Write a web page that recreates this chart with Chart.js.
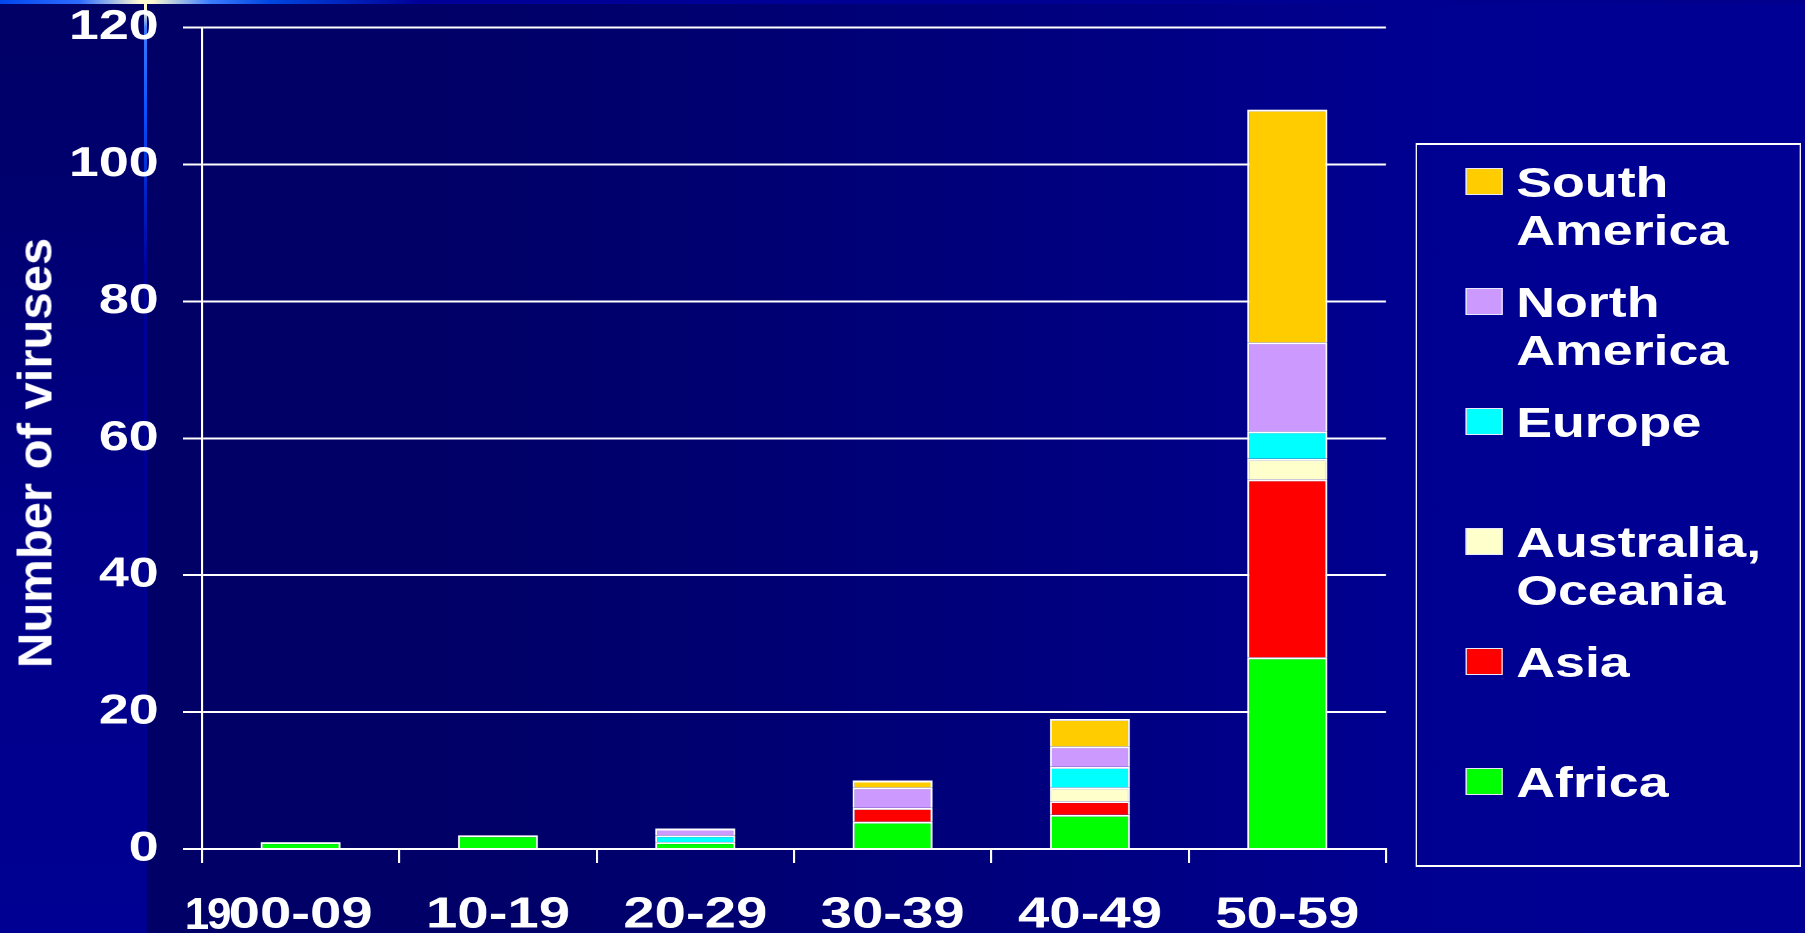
<!DOCTYPE html>
<html>
<head>
<meta charset="utf-8">
<title>Number of viruses by decade</title>
<script src="https://cdn.jsdelivr.net/npm/chart.js@4.4.1/dist/chart.umd.min.js"></script>
<style>
  html, body { margin: 0; padding: 0; }
  body {
    width: 1805px; height: 933px; overflow: hidden; position: relative;
    background: linear-gradient(to right, #000066 0px, #000068 500px, #00007c 1000px, #000090 1390px, #000094 1805px);
    font-family: "Liberation Sans", Arial, sans-serif;
    color: #fff;
  }
  #sidebar {
    position: absolute; left: 0; top: 0; width: 145px; height: 933px;
    background: linear-gradient(to bottom, #000066 0px, #00006e 180px, #000088 520px, #000092 933px);
  }
  #sideline {
    position: absolute; left: 144px; top: 0; width: 3px; height: 933px;
    background: linear-gradient(to bottom, #fffbd0 0px, #fff8c8 10px, #3c7cff 28px, #0a52ff 110px, #0024c8 190px, #00009c 270px, #00008e 933px);
  }
  #topbar {
    position: absolute; left: 0; top: 0; width: 1805px; height: 4px;
    background: linear-gradient(to right, #0046ee 0px, #2e6cff 80px, #fffbd0 140px, #fffbd0 152px, #3c7cff 210px, #0046e0 270px, #000099 420px, #00008c 1805px);
  }
  /* the chart object is drawn narrow and widened, like the embedded graph */
  #stretch {
    position: absolute; left: 0; top: 0; width: 1410px; height: 933px;
    transform: scaleX(1.28); transform-origin: 0 0;
  }
  #chart { position: absolute; left: 0; top: 0; }
  #legend {
    position: absolute; left: 1105.5px; top: 143px; width: 301.5px; height: 724px;
    box-sizing: border-box; border: 2px solid #fff; border-left-width: 1.6px; border-right-width: 1.6px;
  }
  .item { position: absolute; left: 38px; width: 260px; }
  .swatch {
    position: absolute; left: 0; top: 9.5px; width: 29px; height: 27px;
    box-sizing: border-box; border: 1.5px solid #e8e8ff; border-left-width: 1.2px; border-right-width: 1.2px;
  }
  .label {
    margin-left: 40px; width: 220px;
    font-weight: bold; font-size: 42px; line-height: 48px;
  }
  #ytitle {
    position: absolute; left: 35px; top: 453px;
    transform: translate(-50%, -50%) rotate(-90deg);
    white-space: nowrap; font-weight: bold; font-size: 49px; line-height: 1;
  }
  #century {
    position: absolute; top: 892px;
    font-weight: bold; font-size: 44px; line-height: 44px; white-space: nowrap;
    letter-spacing: -2px;
  }
</style>
</head>
<body>
<div id="sidebar"></div>
<div id="sideline"></div>
<div id="topbar"></div>
<div id="stretch">
  <canvas id="chart" width="1090" height="933"></canvas>
  <div id="legend"></div>
</div>
<div id="ytitle">Number of viruses</div>
<div id="century">19</div>

<script>
// decades of isolation and virus counts per region
const decades = ["00-09", "10-19", "20-29", "30-39", "40-49", "50-59"];
const africa = [1, 2, 1, 4, 5, 28];
const asia = [0, 0, 0, 2, 2, 26];
const oceania = [0, 0, 0, 0, 2, 3];
const europe = [0, 0, 1, 0, 3, 4];
const northAmerica = [0, 0, 1, 3, 3, 13];
const southAmerica = [0, 0, 0, 1, 4, 34];

const regions = ["Africa", "Asia", "Australia, Oceania", "Europe", "North America", "South America"];
const counts = [africa, asia, oceania, europe, northAmerica, southAmerica];
const regionColors = ["#00ff00", "#ff0000", "#ffffcc", "#00ffff", "#cc99ff", "#ffcc00"];

const yTicks = [0, 20, 40, 60, 80, 100, 120];

const STRETCH = 1.28;
const FONT = '"Liberation Sans", Arial, sans-serif';

const datasets = regions.map((name, i) => ({
    label: name,
    data: counts[i],
    backgroundColor: regionColors[i],
    borderColor: "#ffffff",
    borderWidth: { top: 2, left: 1.6, right: 1.6, bottom: 0 },
    borderSkipped: "start",
    categoryPercentage: 1,
    barPercentage: 0.405
}));

const chart = new Chart(document.getElementById("chart"), {
    type: "bar",
    data: { labels: decades, datasets: datasets },
    options: {
        responsive: false,
        animation: false,
        devicePixelRatio: 2,
        layout: { padding: { top: 0, right: 7.2, bottom: 0, left: 0 } },
        plugins: {
            legend: { display: false },
            tooltip: { enabled: false }
        },
        scales: {
            x: {
                stacked: true,
                offset: true,
                grid: {
                    offset: true,
                    drawOnChartArea: true,
                    // only the right edge is drawn through the plot
                    color: c => c.index === decades.length ? "#ffffff" : "rgba(0,0,0,0)",
                    tickColor: "#ffffff",
                    lineWidth: 1.6,
                    tickLength: 14
                },
                border: { color: "#ffffff", width: 2 },
                ticks: {
                    color: "#ffffff",
                    font: { family: FONT, size: 44, weight: "bold" },
                    padding: 26,
                    maxRotation: 0,
                    autoSkip: false
                },
                afterFit: s => {
                    s.height = 84;
                    s.paddingLeft = 0;
                    s.paddingRight = 0;
                }
            },
            y: {
                stacked: true,
                min: yTicks[0],
                max: yTicks[yTicks.length - 1],
                afterBuildTicks: s => { s.ticks = yTicks.map(v => ({ value: v })); },
                ticks: {
                    color: "#ffffff",
                    font: { family: FONT, size: 42, weight: "bold" },
                    padding: 19
                },
                grid: { color: "#ffffff", lineWidth: 2, tickLength: 14.8 },
                border: { color: "#ffffff", width: 1.6 },
                afterFit: s => {
                    s.width = 157.8;
                    s.paddingTop = 27.5;
                    s.paddingBottom = 0;
                }
            }
        }
    }
});

// legend box, top entry is the last stacked series
const legendBox = document.getElementById("legend");
chart.data.datasets.slice().reverse().forEach((ds, i) => {
    const item = document.createElement("div");
    item.className = "item";
    item.style.top = (13.5 + i * 120) + "px";
    const sw = document.createElement("span");
    sw.className = "swatch";
    sw.style.background = ds.backgroundColor;
    const txt = document.createElement("div");
    txt.className = "label";
    txt.textContent = ds.label;
    item.appendChild(sw);
    item.appendChild(txt);
    legendBox.appendChild(item);
});

// "19" sits just left of the first decade label
function placeCentury() {
    const xs = chart.scales.x;
    const ctx = chart.ctx;
    ctx.save();
    ctx.font = "bold 44px " + FONT;
    const w = ctx.measureText(decades[0]).width;
    ctx.restore();
    const labelLeft = (xs.getPixelForValue(0) - w / 2) * STRETCH;
    const el = document.getElementById("century");
    el.style.left = (labelLeft + 1 - el.offsetWidth) + "px";
}
placeCentury();
</script>
</body>
</html>
